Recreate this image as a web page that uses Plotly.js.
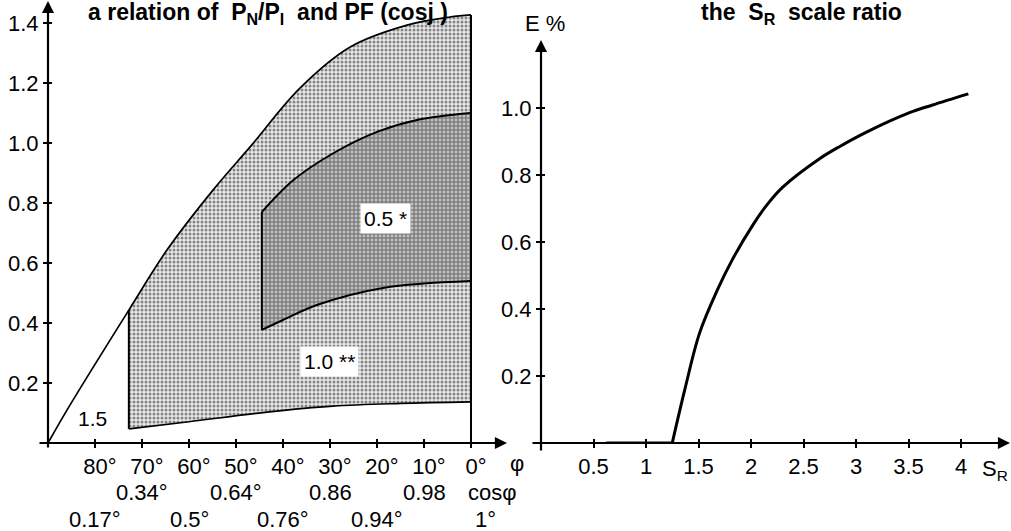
<!DOCTYPE html>
<html><head><meta charset="utf-8">
<script src="https://cdn.plot.ly/plotly-3.0.1.min.js"></script>
<style>html,body{margin:0;padding:0;background:#fff}</style>
</head><body><div id="chart" style="width:1011px;height:531px"></div>
<script>
// ---- Left panel data: phi (degrees) vs P_N/P_I ----
const outerPhi = [90, 85.3, 72.8, 64.7, 54.9, 47.0, 36.4, 25.7, 13.6, 4.5, 0];
const outerVal = [0, 0.127, 0.443, 0.643, 0.843, 0.987, 1.183, 1.32, 1.393, 1.42, 1.427];
const bottomPhi = [72.8, 60, 43.4, 29.4, 15, 0];
const bottomVal = [0.047, 0.071, 0.103, 0.123, 0.132, 0.137];
const innerUpperPhi = [44.5, 37.9, 29.4, 20, 11.5, 0];
const innerUpperVal = [0.77, 0.875, 0.965, 1.037, 1.077, 1.1];
const innerLowerPhi = [44.5, 40, 32.8, 18.7, 0];
const innerLowerVal = [0.377, 0.41, 0.46, 0.517, 0.54];
const phiTicks = [80, 70, 60, 50, 40, 30, 20, 10, 0];
const phiTickText = ['80°', '70°', '60°', '50°', '40°', '30°', '20°', '10°', '0°'];
const cosRow2Pos = [70, 50, 30, 10];
const cosRow2Text = ['0.34°', '0.64°', '0.86', '0.98'];
const cosRow3Pos = [80, 60, 40, 20];
const cosRow3Text = ['0.17°', '0.5°', '0.76°', '0.94°'];
const leftYTicks = [0.2, 0.4, 0.6, 0.8, 1.0, 1.2, 1.4];
const leftYText = ['0.2', '0.4', '0.6', '0.8', '1.0', '1.2', '1.4'];
const regionLabels = ['0.5 *', '1.0 **', '1.5'];
const regionLabelPhi = [18.1, 30.2, 80.6];
const regionLabelVal = [0.75, 0.273, 0.083];

// ---- Right panel data: S_R vs E% ----
const srVals = [0.62, 1.25, 1.37, 1.51, 1.68, 1.82, 2.02, 2.15, 2.30, 2.66, 2.85, 3.10, 3.51, 3.73, 4.07];
const eVals = [0, 0, 0.16, 0.328, 0.457, 0.546, 0.652, 0.71, 0.763, 0.85, 0.886, 0.928, 0.986, 1.009, 1.042];
const srTicks = [0.5, 1, 1.5, 2, 2.5, 3, 3.5, 4];
const srTickText = ['0.5', '1', '1.5', '2', '2.5', '3', '3.5', '4'];
const eTicks = [0.2, 0.4, 0.6, 0.8, 1.0];
const eTickText = ['0.2', '0.4', '0.6', '0.8', '1.0'];

const FONT = 'Liberation Sans, Arial, sans-serif';
const W = 1011, H = 531;
const px = v => v / W;
const py = v => 1 - v / H;

const cut = bottomPhi[0];
const lightUpperX = [], lightUpperY = [];
for (let i = 0; i < outerPhi.length; i++) {
  if (outerPhi[i] <= cut) { lightUpperX.push(outerPhi[i]); lightUpperY.push(outerVal[i]); }
}
const outerAtCut = outerVal[outerPhi.indexOf(cut)];
const lastIdx = outerPhi.length - 1;

let knee = 0;
for (let i = 0; i < eVals.length; i++) if (eVals[i] === 0) knee = i;

const SPL = {shape: 'spline', smoothing: 1};
const traces = [
  {x: bottomPhi, y: bottomVal, xaxis: 'x', yaxis: 'y', type: 'scatter', mode: 'lines',
   line: Object.assign({color: '#000', width: 1.6}, SPL)},
  {x: lightUpperX, y: lightUpperY, xaxis: 'x', yaxis: 'y', type: 'scatter', mode: 'lines', fill: 'tonexty',
   fillcolor: 'rgb(216,216,216)', line: Object.assign({width: 0, color: 'rgba(0,0,0,0)'}, SPL),
   fillpattern: {shape: '.', fgcolor: '#858585', bgcolor: '#e8e8e8', size: 4, solidity: 0.45}},
  {x: innerLowerPhi, y: innerLowerVal, xaxis: 'x', yaxis: 'y', type: 'scatter', mode: 'lines',
   line: Object.assign({color: '#000', width: 2}, SPL)},
  {x: innerUpperPhi, y: innerUpperVal, xaxis: 'x', yaxis: 'y', type: 'scatter', mode: 'lines', fill: 'tonexty',
   fillcolor: 'rgb(165,165,165)', line: Object.assign({color: '#000', width: 2}, SPL),
   fillpattern: {shape: '+', fgcolor: '#6a6a6a', bgcolor: '#c0c0c0', size: 4, solidity: 0.45}},
  {x: [innerLowerPhi[0], innerUpperPhi[0]], y: [innerLowerVal[0], innerUpperVal[0]], xaxis: 'x', yaxis: 'y',
   type: 'scatter', mode: 'lines', line: {color: '#000', width: 2}},
  {x: outerPhi, y: outerVal, xaxis: 'x', yaxis: 'y', type: 'scatter', mode: 'lines',
   line: Object.assign({color: '#000', width: 1.7}, SPL)},
  {x: [cut, cut], y: [bottomVal[0], outerAtCut], xaxis: 'x', yaxis: 'y', type: 'scatter', mode: 'lines',
   line: {color: '#000', width: 2}},
  {x: [outerPhi[lastIdx], outerPhi[lastIdx]], y: [0, outerVal[lastIdx]],
   xaxis: 'x', yaxis: 'y', type: 'scatter', mode: 'lines', line: {color: '#000', width: 2}},
  {x: srVals.slice(0, knee + 1), y: eVals.slice(0, knee + 1), xaxis: 'x2', yaxis: 'y2', type: 'scatter', mode: 'lines',
   line: {color: '#000', width: 3}},
  {x: srVals.slice(knee), y: eVals.slice(knee), xaxis: 'x2', yaxis: 'y2', type: 'scatter', mode: 'lines',
   line: Object.assign({color: '#000', width: 3}, SPL)},
  {x: [], y: [], xaxis: 'x3', yaxis: 'y3', type: 'scatter', mode: 'lines'},
  {x: [], y: [], xaxis: 'x4', yaxis: 'y4', type: 'scatter', mode: 'lines'}
];

const tickFont = {family: FONT, size: 22, color: '#000'};
const baseAx = {showgrid: false, zeroline: false, showline: false, fixedrange: true, tickmode: 'array',
  ticks: 'outside', ticklen: 4, tickwidth: 2, tickcolor: '#000', tickfont: tickFont};

const leftXDom = [px(48), px(503)];
const leftYDom = [1 - 443 / H, 1];
const rightXDom = [px(541), 1];
const rightYDom = [1 - 443 / H, py(40)];
const leftXRange = [90, 90 - 455 / 4.7];
const leftYRange = [0, 443 / 300];
const rightXRange = [0, 470 / 105];
const rightYRange = [0, 403 / 335];

const annotations = [];
const txt = (text, x, y, xref, yref, opts) => Object.assign({
  text, x, y, xref, yref, showarrow: false, xanchor: 'center', yanchor: 'middle',
  font: {family: FONT, size: 22, color: '#000'}}, opts || {});

cosRow2Text.forEach((t, i) => annotations.push(txt(t, cosRow2Pos[i], py(492), 'x', 'paper')));
cosRow3Text.forEach((t, i) => annotations.push(txt(t, cosRow3Pos[i], py(519), 'x', 'paper')));
annotations.push(txt('1°', px(485), py(519), 'paper', 'paper'));
annotations.push(txt('cosφ', px(492), py(492), 'paper', 'paper'));
annotations.push(txt('φ', px(517), py(463), 'paper', 'paper'));
regionLabels.forEach((t, i) => annotations.push(txt(t, regionLabelPhi[i], regionLabelVal[i], 'x', 'y',
  Object.assign({font: {family: FONT, size: 21, color: '#000'}}, i < 2 ? {bgcolor: '#fff', borderpad: 3} : {}))));
annotations.push(txt('<b>a relation of \u00a0P<sub>N</sub>/P<sub>I</sub> \u00a0and PF (cosj )</b>', px(268), py(13), 'paper', 'paper',
  {font: {family: FONT, size: 23, color: '#000'}}));
annotations.push(txt('<b>the \u00a0S<sub>R</sub> \u00a0scale ratio</b>', px(801), py(13), 'paper', 'paper',
  {font: {family: FONT, size: 23, color: '#000'}}));
annotations.push(txt('E %', px(545), py(23), 'paper', 'paper'));
annotations.push(txt('S<sub>R</sub>', px(980), py(470), 'paper', 'paper', {xanchor: 'left'}));

const arrow = (hx, hy, axp, ayp) => ({x: px(hx), y: py(hy), xref: 'paper', yref: 'paper', text: '',
  showarrow: true, ax: axp, ay: ayp, axref: 'pixel', ayref: 'pixel', arrowhead: 2, arrowsize: 1.1,
  arrowwidth: 2.2, arrowcolor: '#000', standoff: 0, startstandoff: 0});
annotations.push(arrow(507, 443, -469, 0));
annotations.push(arrow(48, 0, 0, 449));
annotations.push(arrow(1010, 443, -479, 0));
annotations.push(arrow(541, 40, 0, 412));

const layout = {
  width: W, height: H, margin: {l: 0, r: 0, t: 0, b: 0}, paper_bgcolor: '#fff', plot_bgcolor: 'rgba(0,0,0,0)',
  showlegend: false, font: {family: FONT, color: '#000'},
  xaxis: Object.assign({}, baseAx, {domain: leftXDom, range: leftXRange, anchor: 'y',
    tickvals: phiTicks, ticktext: phiTickText, ticklabelshift: -5}),
  yaxis: Object.assign({}, baseAx, {domain: leftYDom, range: leftYRange, anchor: 'x',
    tickvals: leftYTicks, ticktext: leftYText}),
  xaxis2: Object.assign({}, baseAx, {domain: rightXDom, range: rightXRange, anchor: 'y2',
    tickvals: srTicks, ticktext: srTickText}),
  yaxis2: Object.assign({}, baseAx, {domain: rightYDom, range: rightYRange, anchor: 'x2',
    tickvals: eTicks, ticktext: eTickText}),
  xaxis3: Object.assign({}, baseAx, {overlaying: 'x', range: leftXRange, anchor: 'y3', ticks: 'inside',
    showticklabels: false, tickvals: phiTicks}),
  yaxis3: Object.assign({}, baseAx, {overlaying: 'y', range: leftYRange, anchor: 'x3', ticks: 'inside',
    showticklabels: false, tickvals: leftYTicks}),
  xaxis4: Object.assign({}, baseAx, {overlaying: 'x2', range: rightXRange, anchor: 'y4', ticks: 'inside',
    showticklabels: false, tickvals: srTicks}),
  yaxis4: Object.assign({}, baseAx, {overlaying: 'y2', range: rightYRange, anchor: 'x4', ticks: 'inside',
    showticklabels: false, tickvals: eTicks}),
  annotations: annotations
};

Plotly.newPlot('chart', traces, layout, {displayModeBar: false, staticPlot: true});
</script>
</body></html>
